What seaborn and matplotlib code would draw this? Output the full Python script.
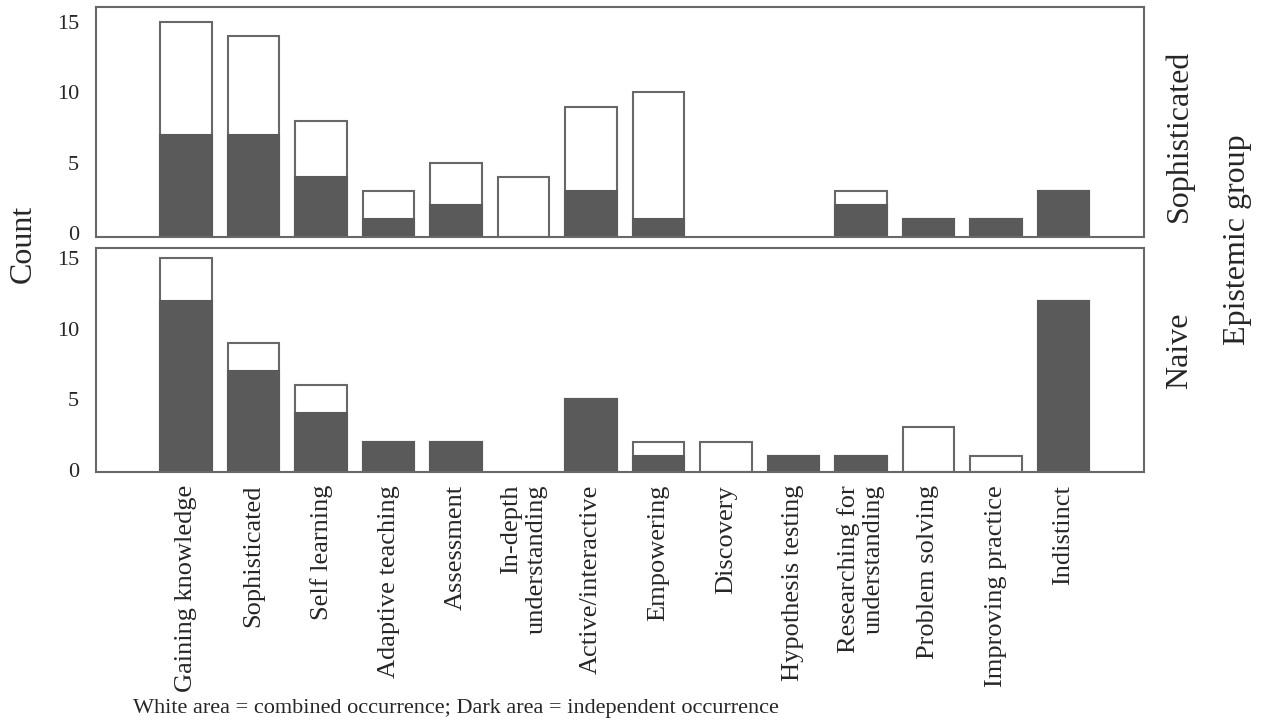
import numpy as np
import pandas as pd
import seaborn as sns
import matplotlib.pyplot as plt

categories = ["Gaining knowledge", "Sophisticated", "Self learning", "Adaptive teaching",
              "Assessment", "In-depth\nunderstanding", "Active/interactive", "Empowering",
              "Discovery", "Hypothesis testing", "Researching for\nunderstanding",
              "Problem solving", "Improving practice", "Indistinct"]
groups = ["Sophisticated", "Naive"]

# total = white outlined bar, independent = dark part
soph_total = [15, 14, 8, 3, 5, 4, 9, 10, 0, 0, 3, 1, 1, 3]
soph_indep = [7, 7, 4, 1, 2, 0, 3, 1, 0, 0, 2, 1, 1, 3]
naive_total = [15, 9, 6, 2, 2, 0, 5, 2, 2, 1, 1, 3, 1, 12]
naive_indep = [12, 7, 4, 2, 2, 0, 5, 1, 0, 1, 1, 0, 0, 12]

yticks = [0, 5, 10, 15]
caption = "White area = combined occurrence; Dark area = independent occurrence"

df = pd.concat([
    pd.DataFrame({"group": "Sophisticated", "category": categories,
                  "total": soph_total, "independent": soph_indep}),
    pd.DataFrame({"group": "Naive", "category": categories,
                  "total": naive_total, "independent": naive_indep}),
], ignore_index=True)

sns.set_theme(style="white")
plt.rcParams['font.family'] = ['Liberation Serif', 'DejaVu Serif']

frame = "#686868"
dark = "#5a5a5a"

fig = plt.figure(figsize=(12.61, 7.25), dpi=100)
ax1 = fig.add_axes([0.0759, 0.6727, 0.8316, 0.3172])
ax2 = fig.add_axes([0.0759, 0.3486, 0.8316, 0.3094])
ylims = {"Sophisticated": (-0.27, 16.04), "Naive": (-0.18, 15.73)}

for ax, g in zip([ax1, ax2], groups):
    sub = df[df["group"] == g]
    sns.barplot(data=sub, x="category", y="total", order=categories, color="white",
                edgecolor=frame, linewidth=1.5, width=0.76, saturation=1,
                errorbar=None, ax=ax)
    sns.barplot(data=sub, x="category", y="independent", order=categories, color=dark,
                edgecolor=dark, linewidth=1.5, width=0.76, saturation=1,
                errorbar=None, ax=ax)
    lo, hi = ylims[g]
    ax.set_ylim(lo, hi)
    ax.set_xlim(-1.34, 14.2)
    # bars run down to the frame, empty ones are hidden
    for p in ax.patches:
        h = p.get_height()
        if h <= 0:
            p.set_visible(False)
        else:
            p.set_y(lo)
            p.set_height(h - lo)
    for s in ax.spines.values():
        s.set_color(frame)
        s.set_linewidth(1.5)
    ax.set_yticks(yticks)
    ax.set_xlabel("")
    ax.set_ylabel("")
    ax.tick_params(axis="y", length=0, pad=12, labelsize=16)
    ax.tick_params(axis="x", length=0, pad=9, labelsize=19)

ax1.tick_params(labelbottom=False)
ax2.set_xticks(range(len(categories)))
ax2.set_xticklabels(categories, rotation=90, va="top", ha="center")
for lbl in ax2.get_xticklabels():
    lbl.set_multialignment("right")

fig.text(23 / 1261, 1 - 244 / 725, "Count", rotation=90, ha="center", va="center", fontsize=23)
fig.text(1179 / 1261, 1 - 136 / 725, "Sophisticated", rotation=90, ha="center", va="center", fontsize=23)
fig.text(1180 / 1261, 1 - 351 / 725, "Naive", rotation=90, ha="center", va="center", fontsize=23)
fig.text(1238 / 1261, 1 - 240 / 725, "Epistemic group", rotation=90, ha="center", va="center", fontsize=23)
fig.text(133 / 1261, 1 - 709 / 725, caption, ha="left", va="center", fontsize=16)

fig.savefig("out.png", dpi=100)
